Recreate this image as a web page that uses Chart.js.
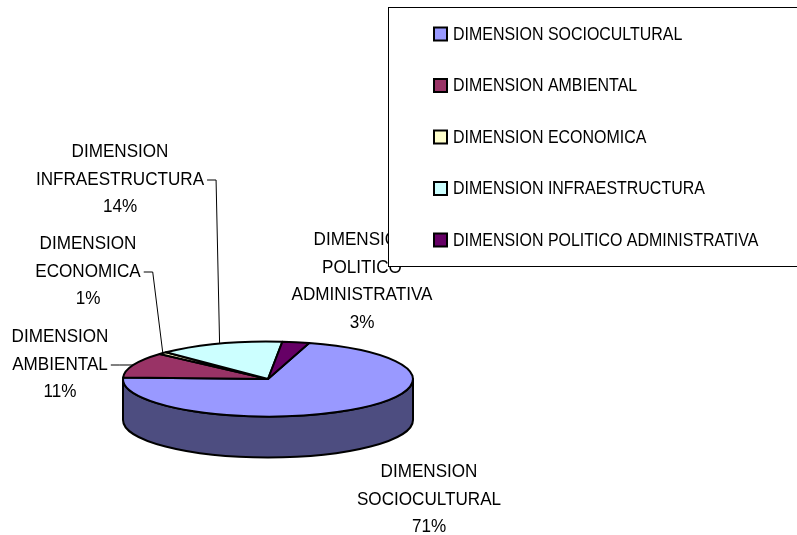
<!DOCTYPE html>
<html><head><meta charset="utf-8">
<script src="https://cdn.jsdelivr.net/npm/chart.js@4.4.0/dist/chart.umd.min.js"></script>
<style>html,body{margin:0;padding:0;background:#fff;overflow:hidden}canvas{display:block}</style>
</head><body>
<canvas id="c" width="797" height="535"></canvas>
<script>
const categories = ['DIMENSION SOCIOCULTURAL','DIMENSION AMBIENTAL','DIMENSION ECONOMICA','DIMENSION INFRAESTRUCTURA','DIMENSION POLITICO ADMINISTRATIVA'];
const values = [71, 11, 1, 14, 3];
const sliceColors = ['#9999FF','#993366','#FFFFCC','#CCFFFF','#660066'];
const sideColors = ['#4D4D80','#4D1A33','#808066','#668080','#330033'];

// geometry / style (not data)
const PIE = {tilt:0.259, depth:41, rotation:16.5, radius:145};
const FONT = {size:19, family:"'Liberation Sans', Arial, sans-serif", sxLabel:0.9, sxLegend:0.84, lh:27.5};
const labelPos = [
  {x:429, y:472, leader:false},
  {x:60,  y:337, leader:true},
  {x:88,  y:244, leader:true},
  {x:120, y:152, leader:true},
  {x:362, y:240, leader:false}
];
const legendBox = {x:388.5, y:7.5, w:420, h:259, sqX:434, textX:453, firstY:34, step:51.5};

function drawText(ctx, t, x, y, sx, align){
  ctx.save();
  ctx.translate(x, y);
  ctx.scale(sx, 1);
  ctx.textAlign = align;
  ctx.textBaseline = 'middle';
  ctx.fillText(t, 0, 0);
  const w = ctx.measureText(t).width * sx;
  ctx.restore();
  return w;
}

const pie3d = {
  id: 'pie3d',
  beforeDatasetDraw(chart, args) {
    const ctx = chart.ctx;
    const arcs = args.meta.data;
    const k = PIE.tilt, d = PIE.depth;
    ctx.save();
    ctx.lineWidth = 2;
    ctx.strokeStyle = '#000';
    ctx.lineJoin = 'round';
    // side walls (front half only)
    arcs.forEach((arc, i) => {
      const p = arc.getProps(['x','y','startAngle','endAngle','outerRadius'], true);
      const R = p.outerRadius;
      for (let off = -2*Math.PI; off <= 2*Math.PI + 1e-9; off += 2*Math.PI) {
        const a1 = Math.max(p.startAngle, off), a2 = Math.min(p.endAngle, Math.PI + off);
        if (a2 > a1 + 1e-6) {
          ctx.beginPath();
          ctx.ellipse(p.x, p.y, R, R*k, 0, a1, a2, false);
          ctx.lineTo(p.x + R*Math.cos(a2), p.y + d + R*k*Math.sin(a2));
          ctx.ellipse(p.x, p.y + d, R, R*k, 0, a2, a1, true);
          ctx.closePath();
          ctx.fillStyle = sideColors[i];
          ctx.fill();
          ctx.stroke();
        }
      }
    });
    // top faces
    arcs.forEach((arc, i) => {
      const p = arc.getProps(['x','y','startAngle','endAngle','outerRadius'], true);
      const R = p.outerRadius;
      ctx.beginPath();
      ctx.moveTo(p.x, p.y);
      ctx.ellipse(p.x, p.y, R, R*k, 0, p.startAngle, p.endAngle, false);
      ctx.closePath();
      ctx.fillStyle = sliceColors[i];
      ctx.fill();
      ctx.stroke();
    });
    ctx.restore();
    return false;
  },
  afterDraw(chart) {
    const ctx = chart.ctx;
    const arcs = chart.getDatasetMeta(0).data;
    const k = PIE.tilt;
    const total = values.reduce((a,b)=>a+b,0);
    ctx.save();
    ctx.font = FONT.size + 'px ' + FONT.family;
    ctx.fillStyle = '#000';
    ctx.strokeStyle = '#000';
    ctx.lineWidth = 1;
    categories.forEach((cat, i) => {
      const lp = labelPos[i];
      const lines = cat.split(' ').concat([Math.round(values[i]/total*100) + '%']);
      let leaderW = 0, leaderY = 0;
      lines.forEach((t, j) => {
        const y = lp.y + j*FONT.lh;
        const w = drawText(ctx, t, lp.x, y, FONT.sxLabel, 'center');
        if (j === lines.length - 2) { leaderW = w; leaderY = y; }
      });
      if (lp.leader) {
        const p = arcs[i].getProps(['x','y','startAngle','endAngle','outerRadius'], true);
        const mid = (p.startAngle + p.endAngle)/2;
        const ex = p.x + p.outerRadius*Math.cos(mid);
        const ey = p.y + p.outerRadius*k*Math.sin(mid);
        const sx = lp.x + leaderW/2 + 3;
        ctx.beginPath();
        ctx.moveTo(sx, leaderY + 0.5);
        ctx.lineTo(sx + 9, leaderY + 0.5);
        ctx.lineTo(ex, ey);
        ctx.stroke();
      }
    });
    // legend
    const L = legendBox;
    ctx.fillStyle = '#fff';
    ctx.fillRect(L.x, L.y, L.w, L.h);
    ctx.strokeRect(L.x, L.y, L.w, L.h);
    categories.forEach((cat, i) => {
      const y = L.firstY + i*L.step;
      ctx.fillStyle = sliceColors[i];
      ctx.fillRect(L.sqX, y - 6.5, 13, 13);
      ctx.lineWidth = 2;
      ctx.strokeStyle = '#000';
      ctx.strokeRect(L.sqX, y - 6.5, 13, 13);
      ctx.fillStyle = '#000';
      drawText(ctx, cat, L.textX, y + 0.5, FONT.sxLegend, 'left');
    });
    ctx.restore();
  }
};

new Chart(document.getElementById('c'), {
  type: 'pie',
  data: {
    labels: categories,
    datasets: [{
      data: values,
      backgroundColor: sliceColors,
      borderWidth: 0,
      radius: PIE.radius,
      rotation: PIE.rotation
    }]
  },
  options: {
    responsive: false,
    devicePixelRatio: 1,
    animation: false,
    radius: PIE.radius,
    rotation: PIE.rotation,
    layout: { padding: { left: 0, right: 261, top: 223, bottom: 0 } },
    plugins: { legend: { display: false }, tooltip: { enabled: false } }
  },
  plugins: [pie3d]
});
</script>
</body></html>
